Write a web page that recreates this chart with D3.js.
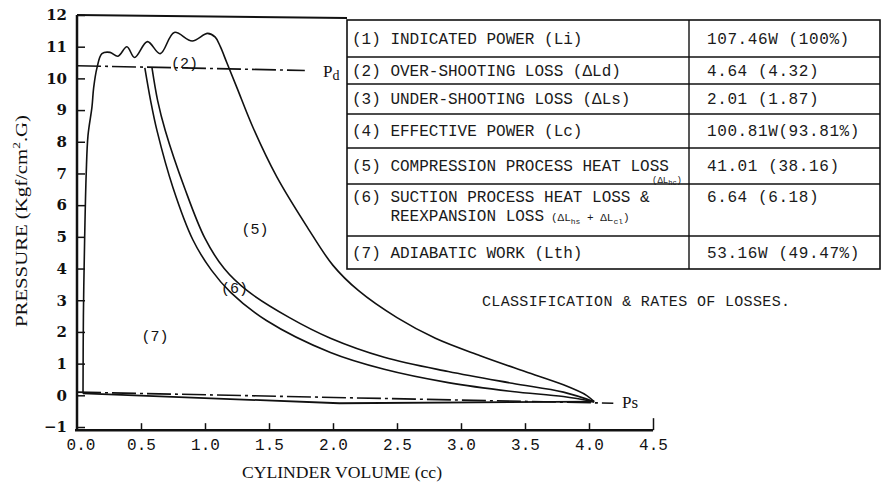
<!DOCTYPE html>
<html lang="en">
<head>
<meta charset="UTF-8">
<title>pv-diagram-losses</title>
<script src="https://cdn.jsdelivr.net/npm/d3@7"></script>
<style>
    body { margin: 0; background: #fff; }
    svg { display: block; }
    .tbl text { font-family: "Liberation Mono", monospace; font-size: 16px; fill: #1a1a1a; }
    .lbl { font-family: "Liberation Mono", monospace; font-size: 15px; fill: #111; }
</style>
</head>
<body>
<svg id="chart"></svg>
<script>
// axis ticks
var xTicks = [0, 0.5, 1.0, 1.5, 2.0, 2.5, 3.0, 3.5, 4.0, 4.5];
var yTicks = [-1, 0, 1, 2, 3, 4, 5, 6, 7, 8, 9, 10, 11, 12];

// indicated diagram: re-expansion rise, wavy discharge, compression curve  [V cc, P kgf/cm2]
var indicatedTop = [
    [0.047, 0.06], [0.05, 2.5], [0.06, 5.0], [0.072, 7.0], [0.086, 8.2], [0.117, 9.1],
    [0.13, 9.7], [0.156, 10.33], [0.195, 10.78], [0.258, 10.82], [0.32, 10.7],
    [0.39, 11.0], [0.45, 10.66], [0.55, 11.16], [0.65, 10.78], [0.76, 11.45],
    [0.9, 11.18], [1.02, 11.42], [1.08, 11.3], [1.12, 11.0], [1.17, 10.5],
    [1.25, 9.7], [1.375, 8.45], [1.56, 6.9], [1.8, 5.3], [2.0, 4.1], [2.2, 3.3],
    [2.5, 2.45], [2.8, 1.8], [3.15, 1.25], [3.5, 0.75], [3.8, 0.33], [3.98, 0.0], [4.04, -0.2]
];
// suction stroke
var suction = [[4.04, -0.2], [2.05, -0.25], [0.047, 0.06]];
// adiabatic / re-expansion curves
var innerA = [
    [0.53, 10.33], [0.575, 9.3], [0.625, 8.35], [0.75, 6.55], [0.906, 4.9], [1.05, 3.95],
    [1.2, 3.25], [1.48, 2.36], [1.98, 1.35], [2.4, 0.82], [2.9, 0.4], [3.4, 0.12],
    [3.8, -0.04], [4.04, -0.2]
];
var innerB = [
    [0.586, 10.33], [0.63, 9.3], [0.69, 8.35], [0.84, 6.55], [1.0, 4.95], [1.15, 4.0],
    [1.33, 3.3], [1.66, 2.45], [1.98, 1.8], [2.4, 1.2], [2.9, 0.75], [3.4, 0.38],
    [3.8, 0.1], [4.04, -0.2]
];
// discharge / suction pressure reference lines
var pdLine = [[0, 10.4], [1.78, 10.25]];
var psLine = [[0, 0.1], [4.19, -0.25]];

// region labels
var regionNames = ["(2)", "(5)", "(6)", "(7)"];
var regionV = [0.84, 1.39, 1.23, 0.61];
var regionP = [10.5, 5.26, 3.4, 1.89];

// table of losses
var lossNames = [
    ["(1) INDICATED POWER (Li)"],
    ["(2) OVER-SHOOTING LOSS (\u0394Ld)"],
    ["(3) UNDER-SHOOTING LOSS (\u0394Ls)"],
    ["(4) EFFECTIVE POWER (Lc)"],
    ["(5) COMPRESSION PROCESS HEAT LOSS"],
    ["(6) SUCTION PROCESS HEAT LOSS &", "    REEXPANSION LOSS"],
    ["(7) ADIABATIC WORK (Lth)"]
];
var lossValues = [
    "107.46W (100%)", "4.64 (4.32)", "2.01 (1.87)", "100.81W(93.81%)",
    "41.01 (38.16)", "6.64 (6.18)", "53.16W (49.47%)"
];

var width = 888, height = 484;
var svg = d3.select('#chart').attr('width', width).attr('height', height);

var x = d3.scaleLinear().domain([0, 4.5]).range([77, 653]);
var y = d3.scaleLinear().domain([-1, 12]).range([427, 15]);

// axes
var xAxis = d3.axisBottom(x).tickValues(xTicks.slice(1))
    .tickSize(-7).tickSizeOuter(0).tickPadding(8)
    .tickFormat(d3.format('.1f'));
var gx = svg.append('g').attr('transform', 'translate(0,' + y(-1.1) + ')').call(xAxis);
gx.select('.domain').remove();
gx.selectAll('line').attr('stroke', '#111').attr('stroke-width', 1.5);
gx.selectAll('text').attr('font-family', '"Liberation Mono", monospace')
    .attr('font-size', 16).attr('fill', '#111');
gx.append('text').text('0.0')
    .attr('x', x(0) + 4).attr('y', 8).attr('dy', '0.71em').attr('text-anchor', 'middle')
    .attr('font-family', '"Liberation Mono", monospace').attr('font-size', 16).attr('fill', '#111');
gx.selectAll('.tick').filter(function (d) { return d === 4.5; })
    .select('line').attr('y2', -12);

var yAxis = d3.axisLeft(y).tickValues(yTicks)
    .tickSize(-8).tickSizeOuter(0).tickPadding(10)
    .tickFormat(d3.format('d'));
var gy = svg.append('g').attr('transform', 'translate(' + x(0) + ',0)').call(yAxis);
gy.select('.domain').remove();
gy.selectAll('line').attr('stroke', '#111').attr('stroke-width', 1.5);
gy.selectAll('text').attr('font-family', '"DejaVu Serif", serif')
    .attr('font-size', 15).attr('font-weight', 'bold').attr('fill', '#111')
    .text(function (d) { return d < 0 ? '\u2212' + Math.abs(d) : d; });

// frame lines
svg.append('line').attr('x1', x(0)).attr('x2', x(0)).attr('y1', y(12)).attr('y2', y(-1.1))
    .attr('stroke', '#111').attr('stroke-width', 2.5);
svg.append('line').attr('x1', x(0) - 2).attr('x2', x(4.5)).attr('y1', y(-1.1)).attr('y2', y(-1.1))
    .attr('stroke', '#111').attr('stroke-width', 2.5);
svg.append('line').attr('x1', x(0)).attr('x2', 347).attr('y1', y(12)).attr('y2', y(12) + 3)
    .attr('stroke', '#111').attr('stroke-width', 2);

// curves
var smooth = d3.line().x(function (d) { return x(d[0]); }).y(function (d) { return y(d[1]); })
    .curve(d3.curveCatmullRom.alpha(0.5));
var straight = d3.line().x(function (d) { return x(d[0]); }).y(function (d) { return y(d[1]); });

svg.append('path').datum(pdLine).attr('d', straight)
    .attr('fill', 'none').attr('stroke', '#111').attr('stroke-width', 1.6)
    .attr('stroke-dasharray', '24,4,3,4');
svg.append('path').datum(psLine).attr('d', straight)
    .attr('fill', 'none').attr('stroke', '#111').attr('stroke-width', 1.6)
    .attr('stroke-dasharray', '24,4,3,4');

[indicatedTop, innerA, innerB].forEach(function (c) {
    svg.append('path').datum(c).attr('d', smooth)
        .attr('fill', 'none').attr('stroke', '#111').attr('stroke-width', 1.6);
});
svg.append('path').datum(suction).attr('d', straight)
    .attr('fill', 'none').attr('stroke', '#111').attr('stroke-width', 1.8);

// region labels
svg.selectAll('.region').data(regionNames).enter().append('text')
    .attr('class', 'lbl')
    .attr('x', function (d, i) { return x(regionV[i]); })
    .attr('y', function (d, i) { return y(regionP[i]); })
    .attr('dy', '0.35em').attr('text-anchor', 'middle')
    .text(function (d) { return d; });

// Pd / Ps
var pd = svg.append('text').attr('x', 323).attr('y', 77)
    .attr('font-family', '"Liberation Serif", serif').attr('font-size', 17).attr('fill', '#111');
pd.append('tspan').text('P');
pd.append('tspan').text('d').attr('font-size', 14).attr('dy', 3);
var ps = svg.append('text').attr('x', 622).attr('y', 408)
    .attr('font-family', '"Liberation Serif", serif').attr('font-size', 17).attr('fill', '#111');
ps.append('tspan').text('Ps');

// axis titles
svg.append('text').attr('x', 342).attr('y', 478).attr('text-anchor', 'middle')
    .attr('font-family', '"Liberation Serif", serif').attr('font-size', 16).attr('fill', '#111')
    .attr('textLength', 200).attr('lengthAdjust', 'spacingAndGlyphs')
    .text('CYLINDER VOLUME (cc)');
var yt = svg.append('text').attr('transform', 'translate(27,221) rotate(-90)')
    .attr('text-anchor', 'middle')
    .attr('font-family', '"Liberation Serif", serif').attr('font-size', 17).attr('fill', '#111')
    .attr('textLength', 212).attr('lengthAdjust', 'spacingAndGlyphs');
yt.append('tspan').text('PRESSURE (Kgf/cm');
yt.append('tspan').text('2').attr('font-size', 11).attr('dy', -7);
yt.append('tspan').text('.G)').attr('dy', 7);

// table
var tblLeft = 347, tblRight = 880, tblDiv = 689;
var rowEdges = [20, 57, 84, 114, 148, 184, 236, 269];
var tbl = svg.append('g').attr('class', 'tbl');
tbl.append('rect').attr('x', tblLeft).attr('y', rowEdges[0])
    .attr('width', tblRight - tblLeft).attr('height', rowEdges[7] - rowEdges[0])
    .attr('fill', 'none').attr('stroke', '#111').attr('stroke-width', 1.6);
tbl.selectAll('.rowline').data(rowEdges.slice(1, 7)).enter().append('line')
    .attr('x1', tblLeft).attr('x2', tblRight).attr('y1', function (d) { return d; })
    .attr('y2', function (d) { return d; }).attr('stroke', '#111').attr('stroke-width', 1.4);
tbl.append('line').attr('x1', tblDiv).attr('x2', tblDiv)
    .attr('y1', rowEdges[0]).attr('y2', rowEdges[7]).attr('stroke', '#111').attr('stroke-width', 1.4);

lossNames.forEach(function (lines, i) {
    var top = rowEdges[i], bot = rowEdges[i + 1];
    var firstY = lines.length > 1 ? top + 18 : (top + bot) / 2 + 5;
    lines.forEach(function (s, j) {
        tbl.append('text').attr('x', 352).attr('y', firstY + j * 19)
            .attr('xml:space', 'preserve').style('white-space', 'pre').text(s);
    });
    tbl.append('text').attr('x', 707).attr('y', firstY)
        .style('letter-spacing', '0.6px')
        .text(lossValues[i]);
});
// small subscripts in rows 5 and 6
var s5 = tbl.append('text').attr('x', 652).attr('y', 183).style('font-size', '9px');
s5.append('tspan').text('(\u0394L');
s5.append('tspan').text('hc').style('font-size', '7px').attr('dy', 2);
s5.append('tspan').text(')').attr('dy', -2);
var s6 = tbl.append('text').attr('x', 551).attr('y', 221).style('font-size', '11px');
s6.append('tspan').text('(\u0394L');
s6.append('tspan').text('hs').style('font-size', '8px').attr('dy', 3);
s6.append('tspan').text(' + \u0394L').attr('dy', -3);
s6.append('tspan').text('cl').style('font-size', '8px').attr('dy', 3);
s6.append('tspan').text(')').attr('dy', -3);

svg.append('text').attr('x', 482).attr('y', 306)
    .attr('font-family', '"Liberation Mono", monospace').attr('font-size', 15).attr('fill', '#1a1a1a')
    .attr('textLength', 308).attr('lengthAdjust', 'spacing')
    .text('CLASSIFICATION & RATES OF LOSSES.');
</script>
</body>
</html>
